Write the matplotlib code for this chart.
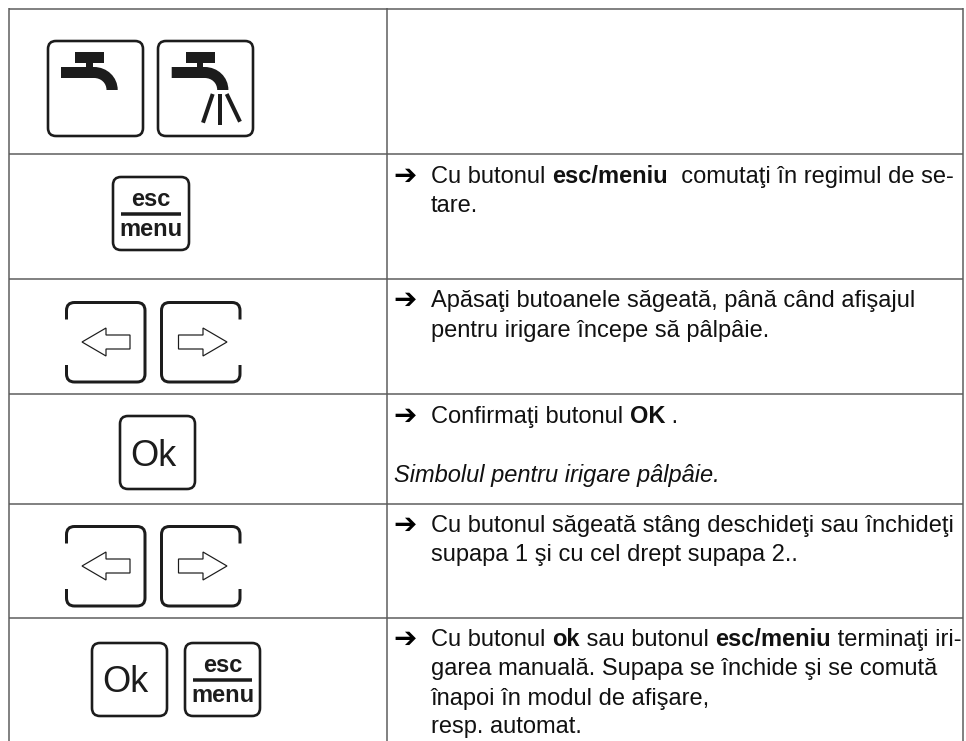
import matplotlib
matplotlib.use("Agg")
import matplotlib.pyplot as plt
from matplotlib.patches import FancyBboxPatch, PathPatch, Polygon
from matplotlib.path import Path

plt.rcParams['font.family'] = ['Liberation Sans', 'DejaVu Sans']

# Instruction text: each line is a list of (text, style) runs
row_esc = [[("Cu butonul ", "n"), ("esc/meniu", "b"), ("  comutaţi în regimul de se-", "n")],
           [("tare.", "n")]]
row_arrows = [[("Apăsaţi butoanele săgeată, până când afişajul", "n")],
              [("pentru irigare începe să pâlpâie.", "n")]]
row_ok = [[("Confirmaţi butonul ", "n"), ("OK", "b"), (" .", "n")]]
row_ok_note = [[("Simbolul pentru irigare pâlpâie.", "i")]]
row_valve = [[("Cu butonul săgeată stâng deschideţi sau închideţi", "n")],
             [("supapa 1 şi cu cel drept supapa 2..", "n")]]
row_finish = [[("Cu butonul ", "n"), ("ok", "b"), (" sau butonul ", "n"), ("esc/meniu", "b"), (" terminaţi iri-", "n")],
              [("garea manuală. Supapa se închide şi se comută", "n")],
              [("înapoi în modul de afişare,", "n")],
              [("resp. automat.", "n")]]
key_ok = "Ok"
key_esc = "esc"
key_menu = "menu"

W, H = 966, 741
INK = "#1c1c1c"
GRID = "#5a5a5a"
PX = 72 / 100  # points per pixel

fig = plt.figure(figsize=(W / 100, H / 100), dpi=100)
ax = fig.add_axes([0, 0, 1, 1])
ax.set_xlim(0, W)
ax.set_ylim(H, 0)
ax.axis("off")

# table grid
for y in [9, 153.5, 278.5, 393.5, 503.5, 617.5]:
    ax.plot([9, 963], [y, y], color=GRID, lw=1.5 * PX, solid_capstyle="butt")
for x in [9, 387.3, 963]:
    ax.plot([x, x], [8.2, 741], color=GRID, lw=1.5 * PX, solid_capstyle="butt")


def box(x0, y0, x1, y1, r=8):
    ax.add_patch(FancyBboxPatch((x0, y0), x1 - x0, y1 - y0,
                                boxstyle=f"round,pad=0,rounding_size={r}",
                                fc="white", ec=INK, lw=2.6 * PX))


def faucet(dx):
    ax.add_patch(Polygon([(75 + dx, 52), (104 + dx, 52), (104 + dx, 62.5), (75 + dx, 62.5)], fc=INK, ec="none"))
    ax.add_patch(Polygon([(86 + dx, 62), (92.5 + dx, 62), (92.5 + dx, 68), (86 + dx, 68)], fc=INK, ec="none"))
    verts = [(61 + dx, 67), (94 + dx, 67),
             (107 + dx, 67), (117.7 + dx, 77), (117.7 + dx, 90),
             (106.5 + dx, 90),
             (106.5 + dx, 83), (101 + dx, 78), (94 + dx, 78),
             (61 + dx, 78), (61 + dx, 67)]
    codes = [Path.MOVETO, Path.LINETO, Path.CURVE4, Path.CURVE4, Path.CURVE4, Path.LINETO,
             Path.CURVE4, Path.CURVE4, Path.CURVE4, Path.LINETO, Path.CLOSEPOLY]
    ax.add_patch(PathPatch(Path(verts, codes), fc=INK, ec="none"))


def key_outline(x0, y0, x1, y1, open_side, r=8, gap=17):
    # rounded key with the middle of one vertical side left open
    xa, xb, s = (x0, x1, 1) if open_side == "left" else (x1, x0, -1)
    verts = [(xa, y0 + gap), (xa, y0 + r), (xa, y0), (xa + s * r, y0),
             (xb - s * r, y0), (xb, y0), (xb, y0 + r),
             (xb, y1 - r), (xb, y1), (xb - s * r, y1),
             (xa + s * r, y1), (xa, y1), (xa, y1 - r), (xa, y1 - gap)]
    codes = [Path.MOVETO, Path.LINETO, Path.CURVE3, Path.CURVE3, Path.LINETO, Path.CURVE3, Path.CURVE3,
             Path.LINETO, Path.CURVE3, Path.CURVE3, Path.LINETO, Path.CURVE3, Path.CURVE3, Path.LINETO]
    ax.add_patch(PathPatch(Path(verts, codes), fc="none", ec=INK, lw=3 * PX, capstyle="butt"))


def arrow_keys(cy):
    y0, y1 = cy - 39.5, cy + 40
    key_outline(66.5, y0, 145, y1, "left")
    key_outline(161.5, y0, 240, y1, "right")
    ax.add_patch(Polygon([(82, cy), (106, cy - 14), (106, cy - 7), (130, cy - 7),
                          (130, cy + 7), (106, cy + 7), (106, cy + 14)],
                         fc="white", ec=INK, lw=1.2 * PX))
    ax.add_patch(Polygon([(227, cy), (203, cy - 14), (203, cy - 7), (178.5, cy - 7),
                          (178.5, cy + 7), (203, cy + 7), (203, cy + 14)],
                         fc="white", ec=INK, lw=1.2 * PX))


def ok_key(x0, y0):
    box(x0, y0, x0 + 75, y0 + 73)
    ax.text(x0 + 33.5, y0 + 36, key_ok, fontsize=26, color=INK, ha="center", va="center_baseline")


def esc_key(x0, y0, x1, y1):
    box(x0, y0, x1, y1)
    cx = (x0 + x1) / 2
    ax.text(cx, y0 + 29.5, key_esc, fontsize=17, fontweight="bold", color=INK, ha="center", va="baseline")
    ax.plot([x0 + 7.5, x1 - 8], [y0 + 36.5, y0 + 36.5], color=INK, lw=3.5 * PX, solid_capstyle="butt")
    ax.text(cx, y0 + 59.5, key_menu, fontsize=17, fontweight="bold", color=INK, ha="center", va="baseline")


# icons, left column
box(48, 41, 143, 136)
box(158, 41, 253, 136)
faucet(0)
faucet(110.7)
for (xa, ya), (xb, yb) in [((212.7, 94), (203, 122.7)), ((220.3, 93.5), (220.3, 125)), ((226.7, 94), (240, 121.7))]:
    ax.plot([xa, xb], [ya, yb], color=INK, lw=4 * PX, solid_capstyle="butt")
esc_key(113, 177, 189, 250)
arrow_keys(342)
ok_key(120, 416)
arrow_keys(566)
ok_key(92, 643)
esc_key(185, 643, 260, 716)

# instruction text, right column
STYLE = {"n": {}, "b": {"fontweight": "bold"}, "i": {"fontstyle": "italic"}}
FS = 17
renderer = fig.canvas.get_renderer()


def run_width(s, style):
    t = ax.text(0, 0, "|" + s + "|", fontsize=FS, **STYLE[style])
    w = t.get_window_extent(renderer).width
    t.set_text("||")
    w -= t.get_window_extent(renderer).width
    t.remove()
    return w


def lines(rows, baselines, bullet=True, x0=431):
    for row, yb in zip(rows, baselines):
        x = x0
        for s, style in row:
            ax.text(x, yb, s, fontsize=FS, color="#111111", va="baseline", ha="left", **STYLE[style])
            x += run_width(s, style)
    if bullet:
        ax.text(393, baselines[0] + 1, "\u2794", family="DejaVu Sans", fontsize=20, fontweight="bold",
                color="black", va="baseline", ha="left")


lines(row_esc, [183, 212.5])
lines(row_arrows, [307, 336.5])
lines(row_ok, [423])
lines(row_ok_note, [482], bullet=False, x0=394)
lines(row_valve, [532, 561.5])
lines(row_finish, [646, 675, 705, 733])

fig.savefig("out.png", dpi=100)
